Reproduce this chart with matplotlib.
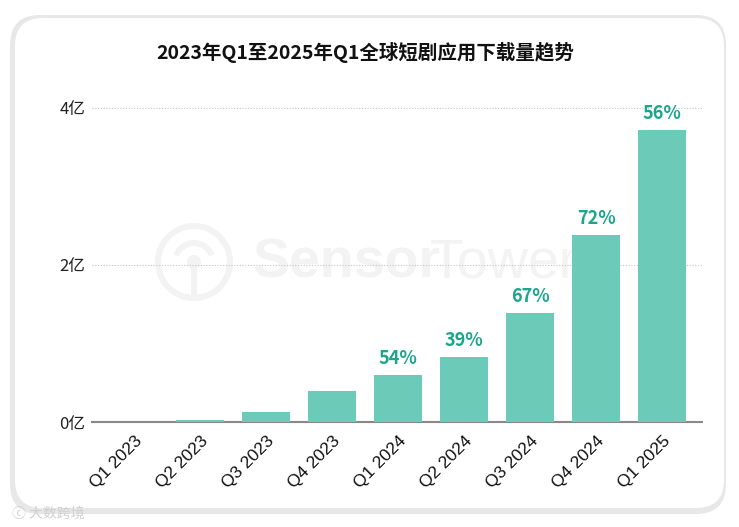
import matplotlib
matplotlib.use("Agg")
import matplotlib.pyplot as plt
from matplotlib.patches import FancyBboxPatch, Circle, Wedge, Rectangle
import numpy as np

# data (unit: 亿 downloads)
quarters = ["Q1 2023", "Q2 2023", "Q3 2023", "Q4 2023", "Q1 2024",
            "Q2 2024", "Q3 2024", "Q4 2024", "Q1 2025"]
downloads = [0.005, 0.03, 0.13, 0.39, 0.60, 0.83, 1.39, 2.38, 3.72]
growth = ["", "", "", "", "54%", "39%", "67%", "72%", "56%"]
yticks = [0, 2, 4]
ytick_labels = ["0亿", "2亿", "4亿"]

plt.rcParams['font.family'] = ['Noto Sans CJK SC', 'DejaVu Sans']

W, H = 739.0, 527.0
fig = plt.figure(figsize=(W / 100, H / 100), dpi=100)
fig.patch.set_facecolor("white")

# background layer in pixel units (y down) for the card + watermarks
bg = fig.add_axes([0, 0, 1, 1], zorder=0)
bg.set_xlim(0, W)
bg.set_ylim(H, 0)
bg.axis("off")
bg.add_patch(FancyBboxPatch((10, 15), 716, 499, boxstyle="round,pad=0,rounding_size=30",
                            facecolor="#e8e8e8", edgecolor="none"))
bg.add_patch(FancyBboxPatch((15, 18), 709, 490, boxstyle="round,pad=0,rounding_size=28",
                            facecolor="white", edgecolor="none"))

# Sensor Tower watermark
wm = "#f3f3f3"
bg.add_patch(Wedge((194, 262), 39, 0, 360, width=6, facecolor=wm, edgecolor="none"))
bg.add_patch(Wedge((194, 262), 22, 200, 340, width=6, facecolor=wm, edgecolor="none"))
bg.add_patch(Circle((194, 262), 7, facecolor=wm, edgecolor="none"))
bg.add_patch(Rectangle((191, 262), 6, 38, facecolor=wm, edgecolor="none"))
bg.text(252, 264, "Sensor", fontsize=40, fontweight="bold", color=wm,
        ha="left", va="center", family="Liberation Sans")
bg.text(430, 264, "Tower", fontsize=40, color=wm,
        ha="left", va="center", family="Liberation Sans")

# source watermark bottom-left
bg.text(12, 514, "ⓒ 大数跨境", fontsize=10, color="#cfcfcf", ha="left", va="center")

ax = fig.add_axes([92 / W, 105 / H, 610 / W, 322 / H], zorder=1)
ax.set_facecolor("none")
x = np.arange(len(quarters))
bars = ax.bar(x, downloads, width=0.73, color="#6ccab9", zorder=3)

for b, g in zip(bars, growth):
    if g:
        ax.annotate(g, (b.get_x() + b.get_width() / 2, b.get_height()),
                    xytext=(0, 5), textcoords="offset points", ha="center",
                    va="bottom", fontsize=13, fontweight="bold", color="#1ba68b")

ax.set_xlim(-0.64, 8.6)
ax.set_ylim(0, 4.1)
ax.set_yticks(yticks)
ax.set_yticklabels(ytick_labels, fontsize=12, color="#222222")
ax.set_xticks(x)
ax.set_xticklabels(quarters, rotation=45, ha="right", rotation_mode="anchor",
                   fontsize=12.5, family="Liberation Sans", color="#111111")
ax.tick_params(axis="both", length=0, pad=5)
ax.tick_params(axis="x", pad=8)
for s in ["top", "right", "left"]:
    ax.spines[s].set_visible(False)
ax.spines["bottom"].set_color("#888888")
ax.spines["bottom"].set_linewidth(1.5)
ax.yaxis.grid(True, linestyle=(0, (1, 1.5)), color="#c4c4c4", linewidth=0.8, zorder=0)
ax.set_axisbelow(True)

fig.text(0.494, 1 - 52 / H, "2023年Q1至2025年Q1全球短剧应用下载量趋势",
         ha="center", va="center", fontsize=14, fontweight="bold", color="#111111")

fig.savefig("out.png", dpi=100, facecolor="white")
